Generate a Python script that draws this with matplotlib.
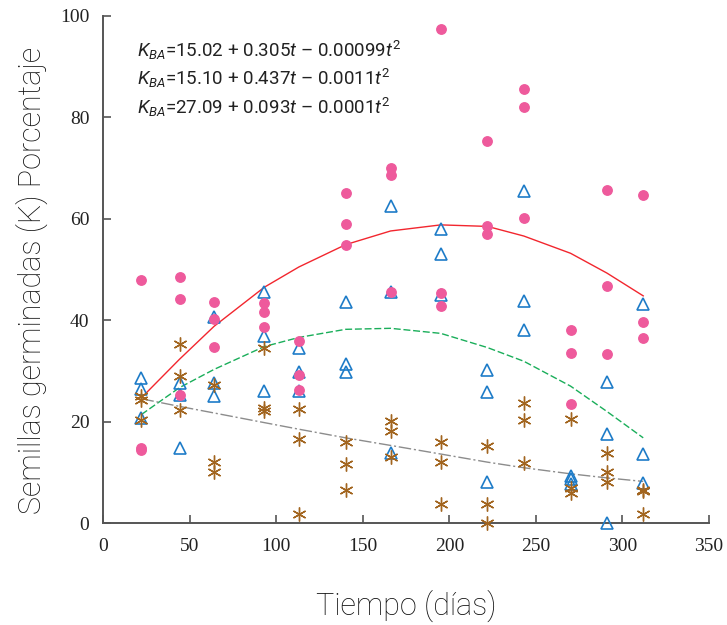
import matplotlib
matplotlib.use("Agg")
import matplotlib.pyplot as plt

# Time points (days)
dias = [22, 44, 64, 93, 113, 140, 166, 195, 222, 243, 270, 291, 312]

# Observed values (three replicates per time point)
rosa = [[48.0, 14.8, 14.3], [48.5, 44.2, 25.3], [43.5, 40.3, 34.8], [43.3, 41.6, 38.6],
        [35.8, 29.2, 26.3], [65.1, 58.9, 54.9], [70.1, 68.7, 45.5], [97.5, 45.3, 42.8],
        [75.4, 58.5, 57.0], [85.7, 82.1, 60.1], [38.1, 33.5, 23.5], [65.7, 46.7, 33.4],
        [64.6, 39.7, 36.4]]
azul = [[28.6, 26.5, 20.7], [27.7, 25.3, 14.8], [40.7, 27.7, 25.1], [45.6, 36.9, 26.1],
        [34.6, 29.8, 26.1], [43.5, 31.3, 29.8], [62.6, 45.5, 13.9], [57.9, 53.1, 45.0],
        [30.1, 25.9, 8.0], [65.5, 43.8, 38.0], [9.2, 8.7, 7.7], [27.9, 17.6, 0.0],
        [43.2, 13.6, 7.9]]
cafe = [[25.0, 24.2, 20.3], [35.4, 29.0, 22.2], [27.3, 12.1, 10.0], [34.6, 22.7, 22.0],
        [22.4, 16.6, 1.8], [15.9, 11.7, 6.5], [20.2, 18.1, 13.0], [15.9, 12.0, 3.7],
        [15.1, 3.7, 0.0], [23.7, 20.4, 11.8], [20.6, 7.0, 5.9], [13.9, 10.0, 8.0],
        [6.6, 6.4, 1.8]]

# Fitted curves read at each time point
ajuste_rojo = [24.7, 32.3, 38.8, 46.5, 50.5, 54.9, 57.6, 58.8, 58.5, 56.6, 53.2, 49.3, 44.8]
ajuste_verde = [21.4, 26.7, 30.3, 34.8, 36.6, 38.2, 38.4, 37.4, 34.6, 31.9, 27.0, 22.0, 16.8]
ajuste_gris = [24.5, 23.0, 21.7, 19.8, 18.5, 16.8, 15.3, 13.6, 12.0, 10.9, 9.7, 8.9, 8.2]

ecuaciones = [r"$K_{BA}$=15.02 + 0.305$t$ – 0.00099$t^2$",
              r"$K_{BA}$=15.10 + 0.437$t$ – 0.0011$t^2$",
              r"$K_{BA}$=27.09 + 0.093$t$ – 0.0001$t^2$"]

xticks = [0, 50, 100, 150, 200, 250, 300, 350]
yticks = [0, 20, 40, 60, 80, 100]

FAM = 'Roboto'
plt.rcParams['mathtext.fontset'] = 'custom'
plt.rcParams['mathtext.rm'] = FAM
plt.rcParams['mathtext.it'] = FAM + ':italic'

fig = plt.figure(figsize=(7.27, 6.25), dpi=100)
ax = fig.add_axes([0.1422, 0.1632, 0.8330, 0.8112])

ax.plot(dias, ajuste_rojo, color='#F2262E', lw=1.0, zorder=2)
ax.plot(dias, ajuste_verde, color='#1AAE5A', lw=1.0, ls=(0, (5, 2)), zorder=2)
ax.plot(dias, ajuste_gris, color='#8C8C8C', lw=1.0, ls=(0, (9, 2, 1.5, 2)), zorder=2)

for d, vals in zip(dias, azul):
    ax.plot([d] * len(vals), vals, ls='none', marker='^', ms=8, mfc='none',
            mec='#1E7CC8', mew=1.2, zorder=3, clip_on=False)
for d, vals in zip(dias, cafe):
    ax.plot([d] * len(vals), vals, ls='none', marker=(6, 2, 0), ms=10,
            mec='#A2651F', mew=1.0, zorder=4, clip_on=False)
for d, vals in zip(dias, rosa):
    ax.plot([d] * len(vals), vals, ls='none', marker='o', ms=6.8, mfc='#EE5A9C',
            mec='#EE5A9C', zorder=5, clip_on=False)

ax.set_xlim(0, 350)
ax.set_ylim(0, 100)
ax.set_xticks(xticks)
ax.set_yticks(yticks)
for s in ['top', 'right']:
    ax.spines[s].set_visible(False)
for s in ['left', 'bottom']:
    ax.spines[s].set_color('#555555')
    ax.spines[s].set_linewidth(1.4)
ax.tick_params(direction='in', length=6, width=1.2, color='#555555',
               labelsize=12, labelcolor='#222222')
ax.tick_params(axis='y', pad=10)
ax.tick_params(axis='x', pad=11)
for lab in ax.get_xticklabels() + ax.get_yticklabels():
    lab.set_family('Liberation Serif')
    lab.set_fontsize(14)

ax.set_xlabel('Tiempo (días)', fontsize=22, family=FAM, weight='light',
              labelpad=25, color='#111111')
ax.set_ylabel('Semillas germinadas (K) Porcentaje', fontsize=22, family=FAM,
              weight='light', color='#111111')
ax.yaxis.set_label_coords(-0.092, 0.478)

for i, eq in enumerate(ecuaciones):
    ax.text(0.055, 0.955 - i * 0.056, eq, transform=ax.transAxes, fontsize=13.5,
            family=FAM, color='#222222', va='top', ha='left')

fig.savefig('out.png', dpi=100)
